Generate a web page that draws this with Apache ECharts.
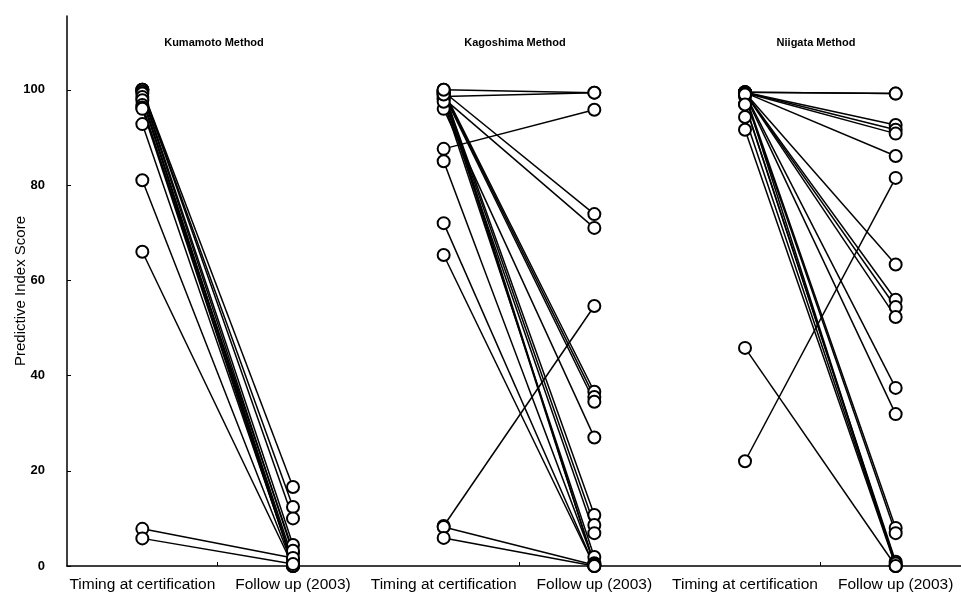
<!DOCTYPE html>
<html>
<head>
<meta charset="utf-8">
<script src="https://cdn.jsdelivr.net/npm/echarts@6/dist/echarts.min.js"></script>
<style>
  html, body { margin: 0; padding: 0; background: #fff; }
  #chart { width: 961px; height: 595px; }
</style>
</head>
<body>
<div id="chart"></div>
<script>
// Paired predictive index scores: at certification vs. follow up (2003)
const methods = ['Kumamoto Method', 'Kagoshima Method', 'Niigata Method'];
const timeLabels = ['Timing at certification', 'Follow up (2003)'];

const kumamotoBefore = [100, 100, 100, 99.6, 99.2, 98.5, 97.8, 96.8, 96.3, 96, 92.8, 81, 66, 7.8, 5.8];
const kumamotoAfter  = [16.6, 12.4, 10, 4.4, 2.7, 0.3, 1.3, 0.2, 3.2, 0, 0.5, 0, 0, 1.7, 0.4];

const kagoshimaBefore = [100, 98.6, 87.6, 99.6, 98.2, 8.4, 99.8, 99.5, 99.1, 96, 99.5, 99, 98, 97.5, 85, 72, 65.3, 99, 100, 8.2, 5.9];
const kagoshimaAfter  = [99.4, 99.4, 95.8, 73.9, 71, 54.6, 36.6, 35.5, 34.5, 27, 10.7, 8.6, 6.9, 1.9, 0.6, 0, 0, 0.3, 0.3, 0.2, 0];

const niigataBefore = [99.5, 99.5, 99.5, 99.5, 99.4, 99.4, 99.4, 99.4, 99.3, 99.3, 99.2, 99, 99, 98.6, 97, 94.3, 91.6, 99, 96.9, 45.8, 22];
const niigataAfter  = [99.2, 99.2, 92.6, 91.6, 90.8, 86.1, 63.3, 55.9, 54.4, 52.3, 37.4, 31.9, 8, 6.9, 0.9, 0.2, 0, 0, 0.5, 0, 81.5];

const yTicks = [0, 20, 40, 60, 80, 100];

const groups = [
  [kumamotoBefore, kumamotoAfter],
  [kagoshimaBefore, kagoshimaAfter],
  [niigataBefore, niigataAfter]
];

// one category per time point per method
const categories = [];
methods.forEach(function (m) {
  timeLabels.forEach(function (t) { categories.push(m + '|' + t); });
});

const series = [];
groups.forEach(function (g, gi) {
  const before = g[0], after = g[1];
  for (let i = 0; i < before.length; i++) {
    series.push({
      type: 'line',
      data: [[gi * 2, before[i]], [gi * 2 + 1, after[i]]],
      symbol: 'emptyCircle',
      symbolSize: 12,
      lineStyle: { color: '#000', width: 1.5 },
      itemStyle: { color: '#000', borderWidth: 1.3 },
      emphasis: { disabled: true },
      silent: true
    });
  }
});

const chart = echarts.init(document.getElementById('chart'), null, { renderer: 'canvas' });

chart.setOption({
  animation: false,
  backgroundColor: '#fff',
  title: methods.map(function (m, i) {
    return {
      text: m,
      left: 209 + i * 301,
      top: 32,
      textAlign: 'center',
      textStyle: { fontFamily: 'Liberation Sans', fontSize: 11, fontWeight: 'bold', color: '#000' }
    };
  }),
  grid: { left: 67, top: 16, width: 904, height: 550, containLabel: false, outerBoundsMode: 'none' },
  xAxis: {
    type: 'category',
    data: categories,
    boundaryGap: true,
    axisLine: { lineStyle: { color: '#000', width: 1.5 } },
    axisTick: {
      show: true,
      inside: true,
      length: 4,
      lineStyle: { color: '#000' },
      interval: function (index) { return index % 2 === 1; }
    },
    axisLabel: {
      interval: 0,
      margin: 11,
      fontFamily: 'Liberation Sans',
      fontSize: 15.5,
      color: '#000',
      formatter: function (v) { return v.split('|')[1]; }
    },
    splitLine: { show: false }
  },
  yAxis: {
    type: 'value',
    min: 0,
    max: 115.5,
    interval: 20,
    name: 'Predictive Index Score',
    nameLocation: 'middle',
    nameGap: 39,
    nameRotate: 90,
    nameMoveOverlap: false,
    nameTextStyle: { fontFamily: 'Liberation Sans', fontSize: 15, color: '#000' },
    axisLine: { show: true, lineStyle: { color: '#000', width: 1.5 } },
    axisTick: { show: true, inside: true, length: 4, lineStyle: { color: '#000' } },
    axisLabel: {
      margin: 22,
      showMaxLabel: false,
      fontFamily: 'Liberation Sans',
      fontSize: 13,
      fontWeight: 'bold',
      color: '#000',
      formatter: function (v) { return yTicks.indexOf(v) >= 0 ? String(v) : ''; }
    },
    splitLine: { show: false }
  },
  series: series
});
</script>
</body>
</html>
